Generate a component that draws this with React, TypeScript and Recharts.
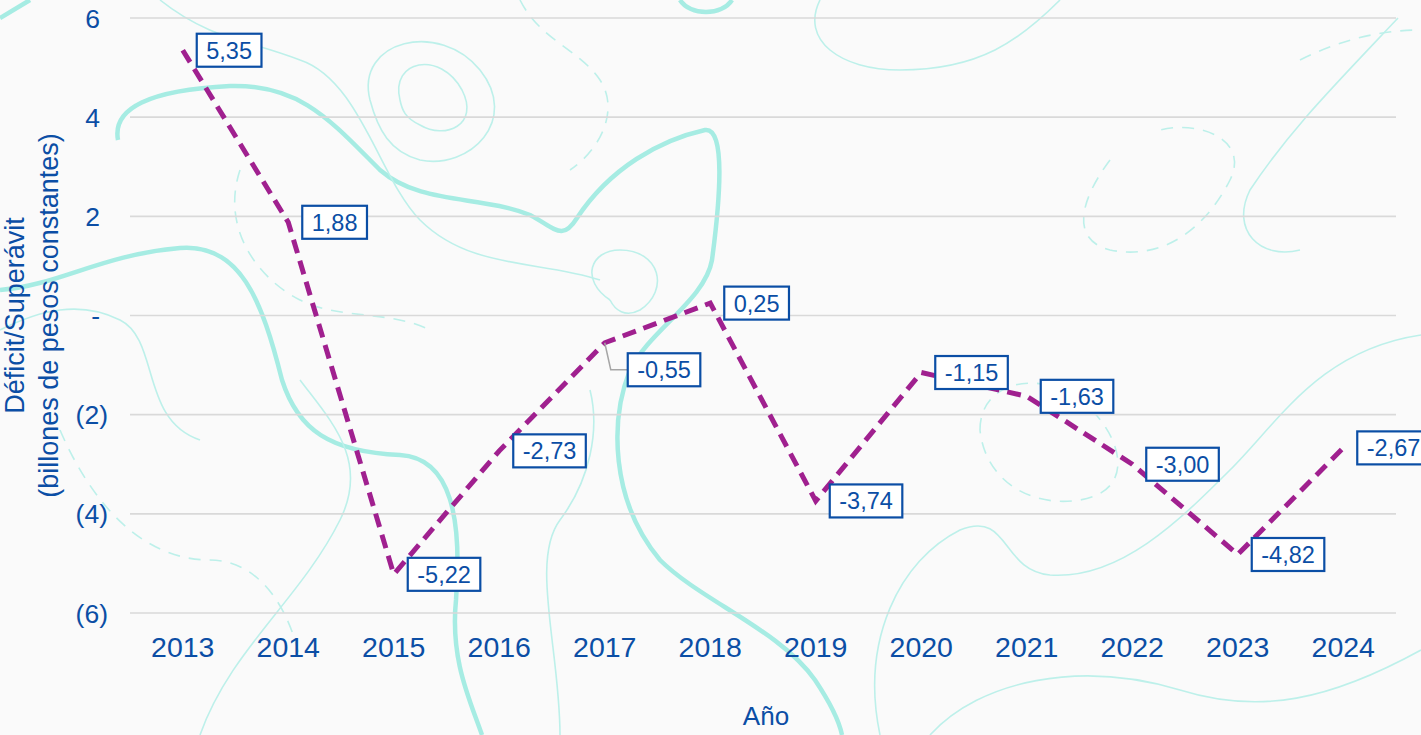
import React from 'react';
import { LineChart, Line, XAxis, YAxis, CartesianGrid, LabelList, Label } from 'recharts';

const years = ['2013', '2014', '2015', '2016', '2017', '2018', '2019', '2020', '2021', '2022', '2023', '2024'];
const balance = [5.35, 1.88, -5.22, -2.73, -0.55, 0.25, -3.74, -1.15, -1.63, -3.0, -4.82, -2.67];
const yTicks = [-6, -4, -2, 0, 2, 4, 6];
const yLabelLines = ['Déficit/Superávit', '(billones de pesos constantes)'];
const xLabel = 'Año';

const data = years.map((year, i) => ({ year, value: balance[i] }));

const BLUE = '#0B4EA5';
const PURPLE = '#A0208F';
const FONT = '"Liberation Sans", Arial, Helvetica, sans-serif';

const fmt = (v: number) => v.toFixed(2).replace('.', ',');
const charW = (c: string) => (c === ',' ? 0.278 : c === '-' ? 0.333 : 0.556);

function ValueTag(props: any) {
  const { x, y, value, index } = props;
  if (x == null || y == null) return null;
  const text = fmt(Number(value));
  const fs = 23.5;
  const w = text.split('').reduce((s, c) => s + charW(c), 0) * fs + 19;
  const h = 33;
  const moved = years[index] === '2017';
  const cy = moved ? y + 27 : y;
  const bx = moved ? x + 23 : x + 14;
  return (
    <g>
      {moved ? (
        <polyline
          points={`${x},${y} ${x + 6},${cy} ${bx},${cy}`}
          fill="none"
          stroke="#A6A6A6"
          strokeWidth={1.5}
        />
      ) : null}
      <rect x={bx} y={cy - h / 2} width={w} height={h} fill="#FFFFFF" stroke={BLUE} strokeWidth={2.2} />
      <text x={bx + w / 2} y={cy} dy="0.36em" textAnchor="middle" fontSize={fs} fill={BLUE} fontFamily={FONT}>
        {text}
      </text>
    </g>
  );
}

function YTick(props: any) {
  const { x, y, payload } = props;
  const v = Number(payload.value);
  const label = v === 0 ? '-' : v < 0 ? `(${Math.abs(v)})` : `${v}`;
  const tx = v < 0 ? x : x - 8;
  return (
    <text x={tx} y={y} dy="0.36em" textAnchor="end" fontSize={26.5} fill={BLUE} fontFamily={FONT}>
      {label}
    </text>
  );
}

function YLabel(props: any) {
  const vb = props.viewBox || {};
  const cy = (vb.y ?? 18) + (vb.height ?? 595) / 2;
  const xs = [24, 58];
  return (
    <g>
      {yLabelLines.map((t, i) => (
        <text
          key={t}
          x={xs[i]}
          y={cy}
          transform={`rotate(-90, ${xs[i]}, ${cy})`}
          textAnchor="middle"
          fontSize={27}
          fill={BLUE}
          fontFamily={FONT}
        >
          {t}
        </text>
      ))}
    </g>
  );
}

function XLabel(props: any) {
  const vb = props.viewBox || {};
  const cx = (vb.x ?? 130) + (vb.width ?? 1266) / 2 + 3;
  const y = (vb.y ?? 613) + 112;
  return (
    <text x={cx} y={y} textAnchor="middle" fontSize={26} fill={BLUE} fontFamily={FONT}>
      {xLabel}
    </text>
  );
}

const thick = [
  'M 0 290 C 60 285, 100 255, 180 248 C 240 243, 262 300, 282 380 C 298 430, 330 452, 400 455 C 452 458, 462 520, 456 600 C 450 660, 470 700, 482 735',
  'M 118 140 C 112 108, 150 90, 230 86 C 300 84, 330 120, 380 170 C 420 205, 480 195, 530 215 C 555 228, 562 242, 577 218 C 610 168, 660 140, 705 130 C 726 127, 720 200, 712 260 C 705 300, 650 330, 630 370 C 610 420, 610 500, 660 560 C 700 600, 780 630, 815 680 C 835 710, 840 725, 842 735',
  'M 680 0 C 690 16, 722 16, 732 0',
  'M 0 18 C 10 12, 20 6, 30 0',
];
const thin = [
  'M 1398 18 C 1330 90, 1290 130, 1250 190 C 1230 230, 1260 260, 1300 250',
  'M 400 100 C 390 60, 440 50, 462 90 C 480 125, 445 140, 420 125 C 405 118, 402 110, 400 100',
  'M 370 100 C 355 40, 440 20, 480 70 C 520 120, 470 170, 420 160 C 390 152, 378 130, 370 100',
  'M 880 735 C 860 640, 900 560, 960 530 C 1010 510, 1000 570, 1050 575 C 1120 580, 1180 520, 1230 470 C 1280 420, 1320 350, 1421 335',
  'M 560 735 C 560 650, 530 560, 560 520 C 590 480, 600 430, 590 390',
  'M 200 735 C 230 650, 300 600, 340 520 C 370 460, 330 420, 300 380',
  'M 0 330 C 40 310, 80 300, 120 320 C 160 340, 140 420, 200 440',
  'M 160 0 C 210 40, 250 40, 300 60 C 360 80, 380 180, 420 220 C 470 270, 540 260, 600 280',
  'M 820 0 C 800 40, 840 70, 900 70 C 980 70, 1020 40, 1060 0',
  'M 930 735 C 980 680, 1080 660, 1180 690 C 1260 715, 1330 700, 1421 650',
  'M 610 300 C 580 280, 590 250, 620 250 C 660 250, 670 290, 640 310 C 625 318, 615 310, 610 300',
];
const dashed = [
  'M 1110 160 C 1080 200, 1070 240, 1110 250 C 1170 262, 1210 220, 1230 180 C 1250 140, 1200 120, 1160 130',
  'M 980 430 C 980 380, 1040 370, 1080 400 C 1120 430, 1140 490, 1080 500 C 1030 508, 985 480, 980 430',
  'M 240 170 C 220 230, 260 280, 300 300 C 340 320, 390 310, 430 330',
  'M 60 430 C 90 500, 140 560, 210 560 C 260 560, 290 610, 300 660',
  'M 520 0 C 540 40, 580 50, 600 80 C 620 110, 600 150, 570 170',
  'M 1300 60 C 1340 40, 1380 30, 1421 30',
];

export default function App() {
  return (
    <div
      style={{
        position: 'fixed',
        left: 0,
        top: 0,
        width: 1421,
        height: 735,
        background: '#FAFAFA',
        overflow: 'hidden',
      }}
    >
      <svg width={1421} height={735} style={{ position: 'absolute', left: 0, top: 0 }}>
        {thick.map((d, i) => (
          <path key={`t${i}`} d={d} fill="none" stroke="#A6ECE3" strokeWidth={4.5} />
        ))}
        {thin.map((d, i) => (
          <path key={`n${i}`} d={d} fill="none" stroke="#BDF0EA" strokeWidth={1.6} />
        ))}
        {dashed.map((d, i) => (
          <path key={`d${i}`} d={d} fill="none" stroke="#BDF0EA" strokeWidth={1.6} strokeDasharray="12 9" />
        ))}
      </svg>
      <div style={{ position: 'absolute', left: 0, top: 0 }}>
        <LineChart width={1421} height={735} data={data} margin={{ top: 18, right: 25, left: 0, bottom: 0 }}>
          <CartesianGrid vertical={false} stroke="#D9D9D9" strokeWidth={1.6} />
          <XAxis
            dataKey="year"
            scale="band"
            height={122}
            axisLine={false}
            tickLine={false}
            tickSize={0}
            tickMargin={24}
            tick={{ fill: BLUE, fontSize: 28.5, fontFamily: FONT }}
            interval={0}
          >
            <Label content={<XLabel />} />
          </XAxis>
          <YAxis
            domain={[-6, 6]}
            ticks={yTicks}
            width={130}
            axisLine={false}
            tickLine={false}
            tickSize={0}
            tickMargin={22}
            tick={<YTick />}
            interval={0}
          >
            <Label content={<YLabel />} />
          </YAxis>
          <Line
            type="linear"
            dataKey="value"
            stroke={PURPLE}
            strokeWidth={5}
            strokeDasharray="14 8"
            dot={false}
            activeDot={false}
            isAnimationActive={false}
          >
            <LabelList dataKey="value" content={<ValueTag />} />
          </Line>
        </LineChart>
      </div>
    </div>
  );
}
